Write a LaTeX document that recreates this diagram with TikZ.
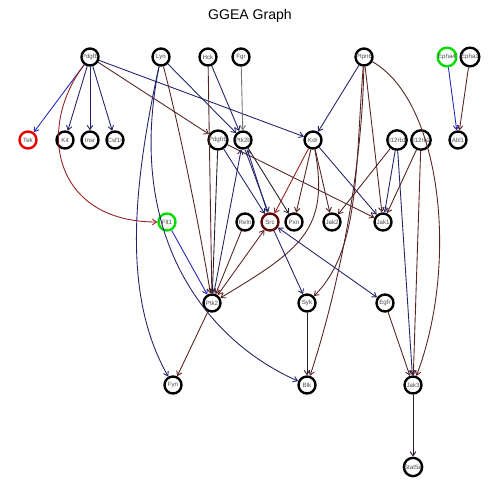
\documentclass[tikz,border=0pt]{standalone}
\usepackage{fontspec}
\setmainfont{Liberation Sans}
\usetikzlibrary{arrows.meta}
\definecolor{ink}{RGB}{40,30,45}
\definecolor{navy}{RGB}{35,35,105}
\definecolor{maroon}{RGB}{85,35,35}
\definecolor{rust}{RGB}{150,30,30}
\definecolor{royal}{RGB}{40,40,190}
\definecolor{srcring}{RGB}{95,10,10}
\tikzset{
  gene/.style={circle, draw=black, line width=1.35pt, minimum size=0.34cm, inner sep=0pt,
    font=\fontsize{3.5}{4}\selectfont, text=black!70},
  edge/.style={line width=0.5pt, -{Straight Barb[length=2.4pt,width=3.2pt]}},
  both/.style={line width=0.5pt, {Straight Barb[length=2.4pt,width=3.2pt]}-{Straight Barb[length=2.4pt,width=3.2pt]}},
}
\begin{document}
\begin{tikzpicture}[x=0.02cm, y=-0.02cm]
\useasboundingbox (0,0) rectangle (500,500);
\node[font=\fontsize{8}{10}\selectfont] (title) at (250,16) {GGEA Graph};

% row 1
\node[gene] (Pdgfb) at (90,57) {Pdgfb};
\node[gene] (Lyn) at (161,57) {Lyn};
\node[gene] (Hck) at (208,57) {Hck};
\node[gene] (Fgr) at (241,57) {Fgr};
\node[gene] (Ptpn6) at (364,57) {Ptpn6};
\node[gene, draw={rgb,255:red,0;green,220;blue,0}] (Epha4) at (447,57) {Epha4};
\node[gene] (Epha1) at (470,57) {Epha1};
% row 2
\node[gene, draw={rgb,255:red,235;green,0;blue,0}] (Tek) at (28,140) {Tek};
\node[gene] (Kit) at (65,140) {Kit};
\node[gene] (Insr) at (90,140) {Insr};
\node[gene] (Csf1r) at (115,140) {Csf1r};
\node[gene] (Pdgfrb) at (218,140) {Pdgfrb};
\node[gene] (Ptk2b) at (243,140) {Ptk2b};
\node[gene] (Kdr) at (313,140) {Kdr};
\node[gene] (Il12rb1) at (397,140) {Il12rb1};
\node[gene] (Il12rb2) at (421,140) {Il12rb2};
\node[gene] (Abl1) at (458,140) {Abl1};
% row 3
\node[gene, draw={rgb,255:red,0;green,220;blue,0}] (Flt1) at (167,222) {Flt1};
\node[gene] (Reln) at (245,222) {Reln};
\node[gene, draw=srcring] (Src) at (270,222) {Src};
\node[gene] (Pxn) at (294,222) {Pxn};
\node[gene] (Jak2) at (332,222) {Jak2};
\node[gene] (Jak1) at (383,222) {Jak1};
% row 4
\node[gene] (Ptk2) at (212,303) {Ptk2};
\node[gene] (Syk) at (307,303) {Syk};
\node[gene] (Egfr) at (385,303) {Egfr};
% row 5
\node[gene] (Fyn) at (173,385) {Fyn};
\node[gene] (Blk) at (307,385) {Blk};
\node[gene] (Jak3) at (413,385) {Jak3};
% row 6
\node[gene] (Stat5a) at (413,467) {Stat5a};

% Pdgfb targets
\draw[edge, royal] (Pdgfb) -- (Tek);
\draw[edge, navy] (Pdgfb) -- (Kit);
\draw[edge, navy] (Pdgfb) -- (Insr);
\draw[edge, navy] (Pdgfb) -- (Csf1r);
\draw[edge, maroon] (Pdgfb) -- (Pdgfrb);
\draw[edge, navy] (Pdgfb) -- (Kdr);
\draw[edge, rust] (Pdgfb) .. controls (35,130) and (55,222) .. (Flt1);

% Lyn, Hck, Fgr
\draw[edge, navy] (Lyn) -- (Ptk2b);
\draw[edge, navy] (Lyn) .. controls (130,200) and (125,300) .. (Fyn);
\draw[edge, navy] (Lyn) .. controls (125,235) and (205,340) .. (Blk);
\draw[edge, maroon] (Lyn) .. controls (180,130) and (200,230) .. (Ptk2);
\draw[edge, navy] (Hck) -- (Ptk2b);
\draw[edge, maroon] (Hck) -- (Ptk2);
\draw[edge, black!55] (Fgr) -- (Ptk2b);

% Ptpn6 targets
\draw[edge, navy] (Ptpn6) -- (Kdr);
\draw[edge, maroon] (Ptpn6) -- (Jak1);
\draw[edge, maroon] (Ptpn6) .. controls (355,170) and (360,250) .. (Syk);
\draw[edge, maroon] (Ptpn6) .. controls (362,180) and (335,300) .. (Blk);
\draw[edge, maroon] (Ptpn6) .. controls (440,100) and (460,260) .. (Jak3);

% Eph receptors
\draw[edge, royal] (Epha4) -- (Abl1);
\draw[edge, maroon] (Epha1) -- (Abl1);

% second row sources
\draw[edge, navy] (Pdgfrb) -- (Src);
\draw[edge, ink] (Pdgfrb) -- (Ptk2);
\draw[edge, maroon] (Pdgfrb) -- (Jak1);
\draw[edge, navy] ([xshift=1.2pt]Ptk2b.south) -- ([xshift=-1pt]Src.north);
\draw[edge, navy] ([xshift=-1.5pt]Src.north) -- ([xshift=2.5pt]Ptk2b.south);
\draw[edge, ink] (Ptk2b) -- (Pxn);
\draw[edge, navy] (Ptk2) -- (Ptk2b);
\draw[edge, rust] (Kdr) -- (Src);
\draw[edge, maroon] (Kdr) -- (Pxn);
\draw[edge, maroon] (Kdr) -- (Jak2);
\draw[edge, navy] (Kdr) -- (Jak1);
\draw[edge, maroon] (Kdr) .. controls (330,230) and (300,250) .. (Ptk2);
\draw[edge, maroon] (Il12rb1) -- (Jak2);
\draw[edge, navy] (Il12rb1) -- (Jak1);
\draw[edge, navy] (Il12rb1) -- (Jak3);
\draw[edge, maroon] (Il12rb2) -- (Jak1);
\draw[edge, maroon] (Il12rb2) -- (Jak3);

% third row sources
\draw[edge, royal] (Flt1) -- (Ptk2);
\draw[edge, maroon] (Reln) -- (Ptk2);
\draw[both, maroon!90!red] (Src) -- (Ptk2);
\draw[edge, navy] (Src) -- (Syk);
\draw[both, navy] (Src) -- (Egfr);

% lower rows
\draw[edge, ink] (Syk) -- (Blk);
\draw[edge, maroon] (Egfr) -- (Jak3);
\draw[edge, maroon] (Ptk2) -- (Fyn);
\draw[edge, ink] (Jak3) -- (Stat5a);
\end{tikzpicture}
\end{document}
